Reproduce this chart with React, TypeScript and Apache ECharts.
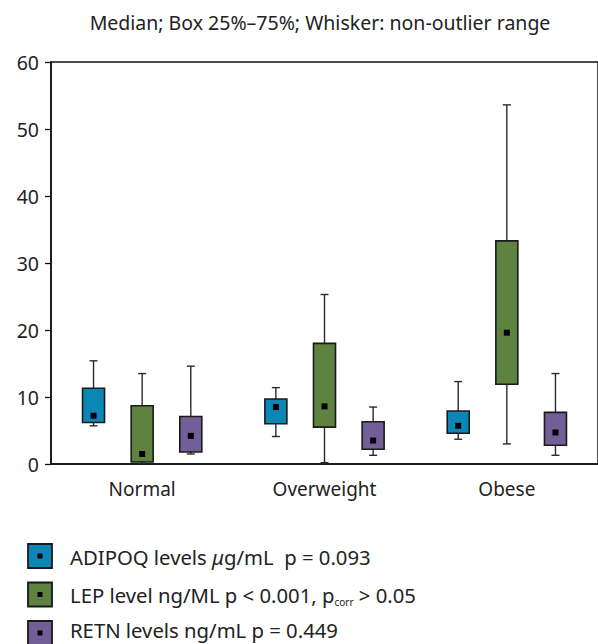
import React, { useEffect, useRef } from "react";
import * as echarts from "echarts";

const categories = ["Normal", "Overweight", "Obese"];
// [categoryIndex, whiskerLow, q1, median, q3, whiskerHigh]
const adipoq = [
  [0, 5.7, 6.2, 7.2, 11.3, 15.4],
  [1, 4.1, 6.0, 8.5, 9.7, 11.4],
  [2, 3.7, 4.6, 5.7, 7.9, 12.3],
];
const lep = [
  [0, 0.1, 0.3, 1.5, 8.7, 13.5],
  [1, 0.2, 5.5, 8.6, 18.0, 25.3],
  [2, 3.0, 11.9, 19.6, 33.3, 53.6],
];
const retn = [
  [0, 1.5, 1.8, 4.2, 7.1, 14.6],
  [1, 1.3, 2.2, 3.5, 6.3, 8.5],
  [2, 1.3, 2.8, 4.7, 7.7, 13.5],
];
const seriesNames = [
  "ADIPOQ levels μg/mL  p = 0.093",
  "LEP level ng/ML p < 0.001, pcorr > 0.05",
  "RETN levels ng/mL p = 0.449",
];
const colors = ["#0C87B5", "#5E8240", "#735F97"];
const yTicks = [0, 10, 20, 30, 40, 50, 60];
const titleText = "Median; Box 25%–75%; Whisker: non-outlier range";

const FONT = "Noto Sans";
const INK = "#222";
const LEG_FS = 20.3;

function makeRender(sIdx: number, color: string) {
  return (params: any, api: any) => {
    const ci = api.value(0);
    const band = api.size([1, 0])[0];
    const off = (sIdx - 1) * band * 0.2667;
    const pLow = api.coord([ci, api.value(1)]);
    const pQ1 = api.coord([ci, api.value(2)]);
    const pMed = api.coord([ci, api.value(3)]);
    const pQ3 = api.coord([ci, api.value(4)]);
    const pHigh = api.coord([ci, api.value(5)]);
    const x = pLow[0] + off;
    const half = 11;
    const cap = 4;
    const lineStyle = { stroke: "#2a2a2a", lineWidth: 1.4 };
    return {
      type: "group",
      children: [
        { type: "line", shape: { x1: x, y1: pHigh[1], x2: x, y2: pQ3[1] }, style: lineStyle },
        { type: "line", shape: { x1: x, y1: pQ1[1], x2: x, y2: pLow[1] }, style: lineStyle },
        { type: "line", shape: { x1: x - cap, y1: pHigh[1], x2: x + cap, y2: pHigh[1] }, style: lineStyle },
        { type: "line", shape: { x1: x - cap, y1: pLow[1], x2: x + cap, y2: pLow[1] }, style: lineStyle },
        {
          type: "rect",
          shape: { x: x - half, y: pQ3[1], width: half * 2, height: pQ1[1] - pQ3[1] },
          style: { fill: color, stroke: "#1a1a1a", lineWidth: 1.6 },
        },
        {
          type: "rect",
          shape: { x: x - 3, y: pMed[1] - 3, width: 6, height: 6 },
          style: { fill: "#000" },
        },
      ],
    };
  };
}

export default function App() {
  const ref = useRef<HTMLDivElement>(null);
  useEffect(() => {
    if (!ref.current) return;
    const chart = echarts.init(ref.current, null, { renderer: "svg" });
    const data = [adipoq, lep, retn];

    const legendRows = [0, 1, 2].map((i) => {
      const top = 544 + i * 38.5;
      let text: any;
      if (i === 0) {
        text = {
          type: "text",
          x: 70,
          y: top + 12.5,
          style: {
            text: "{a|ADIPOQ levels }{i|μ}{a|g/mL  p = 0.093}",
            verticalAlign: "middle",
            rich: {
              a: { fontFamily: FONT, fontSize: LEG_FS, fill: INK, lineHeight: 22 },
              i: { fontFamily: FONT, fontSize: LEG_FS, fontStyle: "italic", fill: INK, lineHeight: 22 },
            },
          },
        };
      } else if (i === 1) {
        text = {
          type: "text",
          x: 70,
          y: top + 12.5,
          style: {
            text: "{a|LEP level ng/ML p < 0.001, p}{s|corr}{a| > 0.05}",
            verticalAlign: "middle",
            rich: {
              a: { fontFamily: FONT, fontSize: LEG_FS, fill: INK, lineHeight: 24 },
              s: { fontFamily: FONT, fontSize: 10, fill: INK, lineHeight: 10, verticalAlign: "bottom" },
            },
          },
        };
      } else {
        text = {
          type: "text",
          x: 70,
          y: 630,
          style: {
            text: seriesNames[2],
            fontFamily: FONT,
            fontSize: LEG_FS,
            lineHeight: 20,
            fill: INK,
            verticalAlign: "middle",
          },
        };
      }
      return [
        {
          type: "rect",
          shape: { x: 28, y: top, width: 24, height: 24 },
          style: { fill: colors[i], stroke: "#1a1a1a", lineWidth: 1.8 },
        },
        {
          type: "rect",
          shape: { x: 37.5, y: top + 9.5, width: 5, height: 5 },
          style: { fill: "#000" },
        },
        text,
      ];
    }).flat();

    chart.setOption({
      animation: false,
      grid: {
        left: 51,
        top: 62,
        width: 559.5,
        height: 402,
        show: true,
        borderColor: "#111",
        borderWidth: 1.5,
        backgroundColor: "transparent",
      },
      xAxis: {
        type: "category",
        data: categories,
        axisLine: { show: true, lineStyle: { color: "#111", width: 1.5 } },
        axisTick: { show: false },
        axisLabel: { fontFamily: FONT, fontSize: 19, color: INK, margin: 15 },
        splitLine: { show: false },
      },
      yAxis: {
        type: "value",
        min: 0,
        max: 60,
        interval: 10,
        axisLine: { show: true, lineStyle: { color: "#111", width: 1.5 } },
        axisTick: { show: true, length: 6, lineStyle: { color: "#111", width: 1.3 } },
        axisLabel: {
          fontFamily: FONT,
          fontSize: 19.5,
          color: INK,
          margin: 12,
          formatter: (v: number) => (yTicks.includes(v) ? String(v) : ""),
        },
        splitLine: { show: false },
      },
      graphic: [
        {
          type: "text",
          x: 320,
          y: 22,
          style: {
            text: titleText,
            fontFamily: FONT,
            fontSize: 19.5,
            fill: INK,
            align: "center",
            verticalAlign: "middle",
          },
        },
        ...legendRows,
      ],
      series: data.map((d, i) => ({
        type: "custom",
        name: seriesNames[i],
        renderItem: makeRender(i, colors[i]),
        encode: { x: 0, y: [1, 2, 3, 4, 5] },
        data: d,
        clip: false,
      })),
    });
    return () => chart.dispose();
  }, []);
  return <div ref={ref} style={{ width: 598, height: 644, position: "absolute", left: 0, top: 0 }} />;
}
